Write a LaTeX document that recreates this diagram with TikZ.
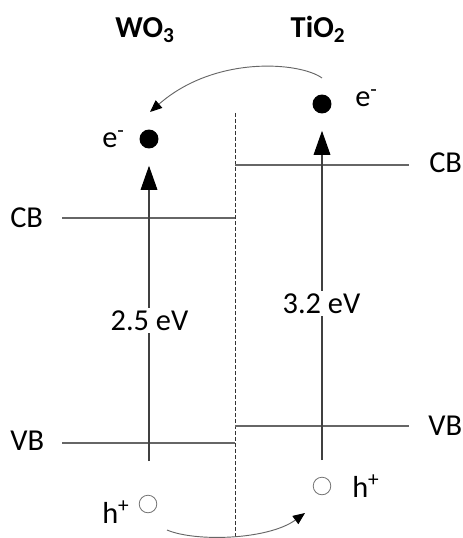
\documentclass[tikz,border=0pt]{standalone}
\usepackage{fontspec}
\setmainfont{Carlito}
\usetikzlibrary{arrows.meta}

\begin{document}
\begin{tikzpicture}[
  x=0.75pt, y=-0.75pt,
  every node/.style={font=\fontsize{22.8}{27}\selectfont, inner sep=0pt},
  title/.style={font=\fontsize{22.8}{27}\selectfont\bfseries, anchor=base},
  lbl/.style={anchor=base west},
  edot/.style={circle, fill=black, minimum size=14.2pt},
  hole/.style={circle, draw=black!55, line width=0.6pt, minimum size=13.2pt},
  band/.style={black!60, line width=0.8pt},
  gap/.style={draw=black!75, line width=0.8pt, -{Triangle[length=18pt,width=12.5pt,black]}, shorten >=12.8pt},
  hop/.style={draw=black!60, line width=0.7pt, -{Triangle[length=9pt,width=7.5pt,black]}}
]
  \useasboundingbox (0,0) rectangle (463,538);

  % materials
  \node[title] (wo) at (145,38) {WO\textsubscript{3}};
  \node[title] (tio) at (318,38) {TiO\textsubscript{2}};

  % interface
  \draw[black!80, line width=0.6pt, dash pattern=on 3pt off 1.5pt] (235,113) -- (235,538);

  % band edges
  \draw[band] (62,218) -- (235,218);
  \draw[band] (235,165) -- (409,165);
  \draw[band] (62,443) -- (235,443);
  \draw[band] (235,426) -- (409,426);
  \node[lbl] (cbw) at (10,227) {CB};
  \node[lbl] (cbt) at (429,173) {CB};
  \node[lbl] (vbw) at (10,450) {VB};
  \node[lbl] (vbt) at (428,435) {VB};

  % carriers
  \node[edot] (eW) at (149,139) {};
  \node[edot] (eTi) at (322,104) {};
  \node[hole] (hW) at (148,504) {};
  \node[hole] (hTi) at (322,486) {};
  \node[lbl] (eWl) at (102,148) {e\textsuperscript{-}};
  \node[lbl] (eTil) at (355,107) {e\textsuperscript{-}};
  \node[lbl] (hWl) at (102,523) {h\textsuperscript{+}};
  \node[lbl] (hTil) at (352,497) {h\textsuperscript{+}};

  % excitation
  \coordinate (wbot) at (149,461);
  \coordinate (tbot) at (322,460);
  \draw[gap] (wbot) -- (eW);
  \draw[gap] (tbot) -- (eTi);
  \node[fill=white, inner sep=2pt, anchor=base] (egW) at (149.5,330) {2.5 eV};
  \node[fill=white, inner sep=2pt, anchor=base] (egT) at (321.5,313) {3.2 eV};

  % transfer
  \coordinate (eout) at (322,78);
  \coordinate (ein) at (150,112);
  \coordinate (hout) at (167,530);
  \coordinate (hin) at (305,513);
  \draw[hop] (eout) .. controls (300,62) and (215,55) .. (ein);
  \draw[hop] (hout) .. controls (195,542) and (268,540) .. (hin);
\end{tikzpicture}
\end{document}
